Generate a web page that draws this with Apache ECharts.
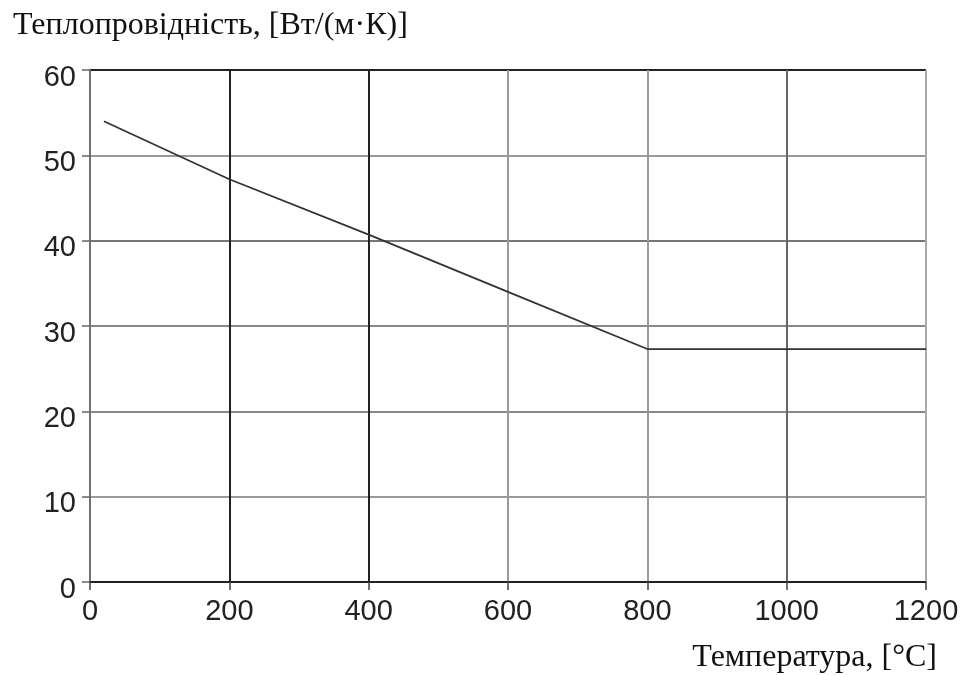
<!DOCTYPE html>
<html><head><meta charset="utf-8">
<script src="https://cdn.jsdelivr.net/npm/echarts@6/dist/echarts.min.js"></script>
<style>html,body{margin:0;padding:0;background:#fff}#c{width:973px;height:675px}</style>
</head><body><div id="c"></div>
<script>
const temperatures = [20, 200, 400, 600, 800, 1200];
const conductivity = [54, 47.2, 40.7, 34.0, 27.3, 27.3];
const yTitle = 'Теплопровідність, [Вт/(м·К)]';
const xTitle = 'Температура, [°C]';

const chart = echarts.init(document.getElementById('c'));
chart.setOption({
  animation: false,
  backgroundColor: '#fff',
  grid: { left: 90, right: 47, top: 70, bottom: 93, containLabel: false },
  xAxis: {
    type: 'value', min: 0, max: 1200, interval: 200,
    axisLine: { show: true, lineStyle: { color: '#222', width: 1.5 } },
    axisTick: { show: true, length: 8, lineStyle: { color: '#444', width: 1.5 } },
    axisLabel: { margin: 15, fontFamily: 'Liberation Sans, Arial', fontSize: 29, color: '#222',
      formatter: v => String(v) },
    splitLine: { show: true, showMinLine: true, showMaxLine: true,
      lineStyle: { width: 2, color: ['#666', '#222', '#222', '#999', '#999', '#666', '#aaa'] } }
  },
  yAxis: {
    type: 'value', min: 0, max: 60, interval: 10,
    axisLine: { show: true, lineStyle: { color: '#777', width: 1.5 } },
    axisTick: { show: true, length: 8, lineStyle: { color: '#666', width: 1.5 } },
    axisLabel: { margin: 14, fontFamily: 'Liberation Sans, Arial', fontSize: 29, color: '#222',
      verticalAlign: 'top', lineHeight: 15 },
    splitLine: { show: true, showMinLine: true, showMaxLine: true,
      lineStyle: { width: 2, color: ['#222', '#999', '#888', '#888', '#777', '#999', '#222'] } }
  },
  series: [{
    type: 'line',
    data: temperatures.map((t, i) => [t, conductivity[i]]),
    showSymbol: false,
    lineStyle: { color: '#333', width: 1.8 },
    z: 5
  }],
  graphic: [
    { type: 'text', left: 13, top: 10,
      style: { text: yTitle, font: '32px "Liberation Serif", "Times New Roman", serif', fill: '#111' } },
    { type: 'text', right: 36, top: 642,
      style: { text: xTitle, font: '32px "Liberation Serif", "Times New Roman", serif', fill: '#111' } }
  ]
});
</script></body></html>
